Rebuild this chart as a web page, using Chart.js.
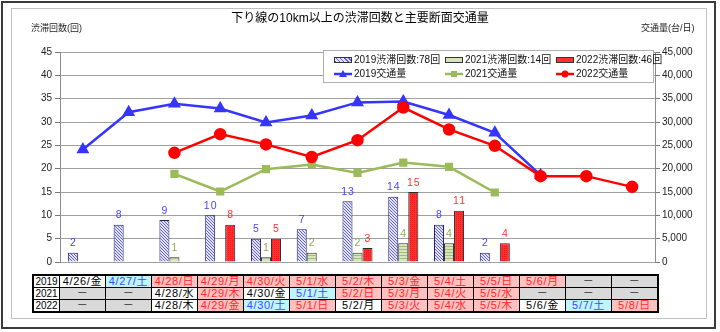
<!DOCTYPE html>
<html lang="ja">
<head>
<meta charset="utf-8">
<script src="https://cdn.jsdelivr.net/npm/chart.js@4.4.1/dist/chart.umd.min.js"></script>
<style>
  body { margin: 0; width: 720px; height: 332px; background: #fff; position: relative; overflow: hidden;
         font-family: "Liberation Sans", "Noto Sans CJK JP", sans-serif; }
  .frame-out { position: absolute; left: 1px; top: 1px; width: 711px; height: 324px; border: 2px solid #3a3a3a; }
  .frame-in { position: absolute; left: 11px; top: 8px; width: 694px; height: 309px; border: 1px solid #c0c0c0; }
  #chart { position: absolute; left: 0; top: 0; }
  .title { position: absolute; left: 0; width: 720px; top: 8px; text-align: center; font-size: 12px; color: #000; }
  .axis-title { position: absolute; top: 21px; font-size: 9px; color: #222; }
  .legend { position: absolute; left: 323px; top: 50px; width: 329px; height: 31px; border: 1px solid #b0b0b0; background: #fff;
            font-size: 10px; color: #111; }
  .legend .item { position: absolute; height: 14px; line-height: 14px; white-space: nowrap; }
  .legend .sw { display: inline-block; width: 16px; height: 4px; vertical-align: middle; margin-right: 2px; border: 1px solid #333; }
  .legend svg { vertical-align: middle; margin-right: 2px; }
  table { position: absolute; left: 32px; top: 274px; border-collapse: collapse; border: 2px solid #000; table-layout: fixed; }
  td { border: 1px solid #000; height: 11px; padding: 0; font-size: 11px; line-height: 11px; text-align: center;
       letter-spacing: 0.7px; white-space: nowrap; overflow: hidden; }
  td.yr { width: 25px; font-size: 10px; letter-spacing: 0; background: #fff; }
  td.d { width: 45px; }
  .w { background: #fff; color: #000; }
  .h { background: #ffc0c0; color: #ff2a2a; }
  .s { background: #c0f4ff; color: #3b4cff; }
  .n { background: #d9d9d9; color: #333; }
</style>
</head>
<body>
<div class="frame-out"></div>
<div class="frame-in"></div>
<canvas id="chart" width="720" height="272"></canvas>
<div class="title">下り線の10km以上の渋滞回数と主要断面交通量</div>
<div class="axis-title" style="left:31px;">渋滞回数(回)</div>
<div class="axis-title" style="left:641px;">交通量(台/日)</div>
<div class="legend" id="legend"></div>
<table id="dates"></table>

<script>
// categories (one per day column)
const days = ['4/26', '4/27', '4/28', '4/29', '4/30', '5/1', '5/2', '5/3', '5/4', '5/5', '5/6', '5/7', '5/8'];

// congestion counts
const jam2019 = [2, 8, 9, 10, 5, 7, 13, 14, 8, 2, null, null, null];
const jam2021 = [null, null, 1, null, 1, 2, 2, 4, 4, null, null, null, null];
const jam2022 = [null, null, null, 8, 5, null, 3, 15, 11, 4, null, null, null];

// traffic volume (vehicles/day)
const traffic2019 = [24100, 32100, 33900, 32900, 29900, 31400, 34200, 34400, 31500, 27700, 18600, null, null];
const traffic2021 = [null, null, 18900, 15100, 19900, 20900, 19100, 21300, 20400, 14900, null, null, null];
const traffic2022 = [null, null, 23400, 27400, 25200, 22500, 26100, 33100, 28400, 24900, 18400, 18400, 16100];

const countTicks = [0, 5, 10, 15, 20, 25, 30, 35, 40, 45];

// table rows: [label, kind] where kind w=weekday h=holiday s=saturday n=none
const rows = {
  '2019': [['4/26/金','w'],['4/27/土','s'],['4/28/日','h'],['4/29/月','h'],['4/30/火','h'],['5/1/水','h'],['5/2/木','h'],
           ['5/3/金','h'],['5/4/土','h'],['5/5/日','h'],['5/6/月','h'],['－','n'],['－','n']],
  '2021': [['－','n'],['－','n'],['4/28/水','w'],['4/29/木','h'],['4/30/金','w'],['5/1/土','s'],['5/2/日','h'],
           ['5/3/月','h'],['5/4/火','h'],['5/5/水','h'],['－','n'],['－','n'],['－','n']],
  '2022': [['－','n'],['－','n'],['4/28/木','w'],['4/29/金','h'],['4/30/土','s'],['5/1/日','h'],['5/2/月','w'],
           ['5/3/火','h'],['5/4/水','h'],['5/5/木','h'],['5/6/金','w'],['5/7/土','s'],['5/8/日','h']]
};

const table = document.getElementById('dates');
Object.keys(rows).forEach(y => {
  let html = '<tr><td class="yr">' + y + '</td>';
  rows[y].forEach(c => { html += '<td class="d ' + c[1] + '">' + c[0] + '</td>'; });
  table.insertAdjacentHTML('beforeend', html + '</tr>');
});

// bar fill patterns
function makePattern(size, bg, draw) {
  const c = document.createElement('canvas');
  c.width = size; c.height = size;
  const g = c.getContext('2d');
  g.fillStyle = bg;
  g.fillRect(0, 0, size, size);
  draw(g);
  return document.getElementById('chart').getContext('2d').createPattern(c, 'repeat');
}
const hatch2019 = makePattern(3, '#e6e6ff', g => {
  g.fillStyle = '#5c5cee';
  for (let i = 0; i < 3; i++) g.fillRect(i, i, 1, 1);
});
const hatch2021 = makePattern(3, '#d6e5bb', g => {
  g.fillStyle = '#a3bd76';
  g.fillRect(0, 0, 3, 1);
});
const fill2022 = makePattern(2, '#ff3030', g => {
  g.fillStyle = '#f01818';
  g.fillRect(0, 0, 1, 1);
});

// legend
const legend = document.getElementById('legend');
const legendItems = [
  { x: 10, y: 2, html: '<span class="sw" style="background:repeating-linear-gradient(45deg,#5c5cee 0 1px,#e6e6ff 1px 3px)"></span>2019渋滞回数:78回' },
  { x: 121, y: 2, html: '<span class="sw" style="background:#d6e5bb"></span>2021渋滞回数:14回' },
  { x: 232, y: 2, html: '<span class="sw" style="background:#ff3030"></span>2022渋滞回数:46回' },
  { x: 10, y: 16, html: '<svg width="18" height="10"><line x1="0" y1="5" x2="18" y2="5" stroke="#3535ff" stroke-width="2.5"/><polygon points="9,1 13,8 5,8" fill="#3535ff"/></svg>2019交通量' },
  { x: 121, y: 16, html: '<svg width="18" height="10"><line x1="0" y1="5" x2="18" y2="5" stroke="#9bbb59" stroke-width="2.5"/><rect x="6" y="2" width="6" height="6" fill="#9bbb59"/></svg>2021交通量' },
  { x: 232, y: 16, html: '<svg width="18" height="10"><line x1="0" y1="5" x2="18" y2="5" stroke="#ff0000" stroke-width="2.5"/><circle cx="9" cy="5" r="3.5" fill="#ff0000"/></svg>2022交通量' }
];
legendItems.forEach(it => {
  legend.insertAdjacentHTML('beforeend', '<div class="item" style="left:' + it.x + 'px;top:' + it.y + 'px">' + it.html + '</div>');
});

// value labels above the bars
const barLabels = {
  id: 'barLabels',
  afterDatasetsDraw(chart) {
    const ctx = chart.ctx;
    chart.data.datasets.forEach((ds, i) => {
      if (ds.type !== 'bar') return;
      chart.getDatasetMeta(i).data.forEach((bar, j) => {
        const v = ds.data[j];
        if (v == null) return;
        ctx.save();
        ctx.fillStyle = ds.labelColor;
        ctx.font = '10.5px "Liberation Sans", sans-serif';
        ctx.letterSpacing = '1px';
        ctx.textAlign = 'center';
        ctx.textBaseline = 'bottom';
        ctx.fillText(String(v), bar.x + 0.5, bar.y - 4);
        ctx.restore();
      });
    });
  }
};

const tickFont = { family: '"Liberation Sans", sans-serif', size: 10 };

new Chart(document.getElementById('chart'), {
  data: {
    labels: days,
    datasets: [
      { type: 'line', label: '2019交通量', data: traffic2019, yAxisID: 'y2', order: 1,
        borderColor: '#3535ff', backgroundColor: '#3535ff', borderWidth: 2.5,
        pointStyle: 'triangle', pointRadius: 5, spanGaps: false },
      { type: 'line', label: '2021交通量', data: traffic2021, yAxisID: 'y2', order: 1,
        borderColor: '#9bbb59', backgroundColor: '#9bbb59', borderWidth: 2.5,
        pointStyle: 'rect', pointRadius: 4 },
      { type: 'line', label: '2022交通量', data: traffic2022, yAxisID: 'y2', order: 0,
        borderColor: '#ff0000', backgroundColor: '#ff0000', borderWidth: 2.5,
        pointStyle: 'circle', pointRadius: 5 },
      { type: 'bar', label: '2019渋滞回数', data: jam2019, yAxisID: 'y', order: 2,
        backgroundColor: hatch2019, borderColor: '#22224a', borderWidth: 1, labelColor: '#4646ff' },
      { type: 'bar', label: '2021渋滞回数', data: jam2021, yAxisID: 'y', order: 2,
        backgroundColor: hatch2021, borderColor: '#2a2a2a', borderWidth: 1, labelColor: '#8fae52' },
      { type: 'bar', label: '2022渋滞回数', data: jam2022, yAxisID: 'y', order: 2,
        backgroundColor: fill2022, borderColor: '#2a2a2a', borderWidth: 1, labelColor: '#ff3333' }
    ]
  },
  options: {
    responsive: false,
    animation: false,
    devicePixelRatio: 1,
    layout: { padding: { top: 52, bottom: 10, left: 0, right: 0 } },
    datasets: { bar: { categoryPercentage: 0.656, barPercentage: 1.0 } },
    plugins: { legend: { display: false }, tooltip: { enabled: false } },
    scales: {
      x: { type: 'category', display: false, offset: true },
      y: {
        position: 'left', min: 0, max: 45,
        afterBuildTicks: s => { s.ticks = countTicks.map(v => ({ value: v })); },
        afterFit: s => { s.width = 60; },
        ticks: { font: tickFont, color: '#222', padding: 3 },
        grid: { color: '#a0a0a0', tickColor: '#777', tickLength: 5, lineWidth: 1 },
        border: { color: '#8c8c8c' }
      },
      y2: {
        position: 'right', min: 0, max: 45000,
        afterBuildTicks: s => { s.ticks = countTicks.map(v => ({ value: v * 1000 })); },
        afterFit: s => { s.width = 65; },
        ticks: { font: tickFont, color: '#222', padding: 2,
                 callback: v => v.toLocaleString('en-US') },
        grid: { drawOnChartArea: false, tickColor: '#777', tickLength: 5 },
        border: { color: '#8c8c8c' }
      }
    }
  },
  plugins: [barLabels]
});
</script>
</body>
</html>
